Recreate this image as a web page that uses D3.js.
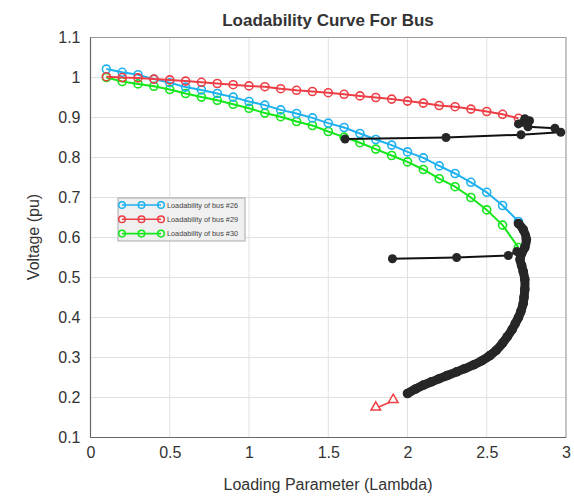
<!DOCTYPE html>
<html>
<head>
<meta charset="utf-8">
<script src="https://cdn.jsdelivr.net/npm/d3@7"></script>
<style>
  body { margin: 0; background: #fff; }
  text { font-family: "Liberation Sans", Arial, sans-serif; fill: #333; }
</style>
</head>
<body>
<div id="chart"></div>
<script>
// loading parameter steps used by the three bus curves
var lambdaSteps = [0.1,0.2,0.3,0.4,0.5,0.6,0.7,0.8,0.9,1.0,1.1,1.2,1.3,1.4,1.5,1.6,1.7,1.8,1.9,2.0,2.1,2.2,2.3,2.4,2.5,2.6,2.7];

var bus26 = [1.021,1.013,1.007,0.996,0.987,0.976,0.969,0.960,0.951,0.940,0.931,0.919,0.910,0.899,0.886,0.875,0.860,0.845,0.831,0.814,0.799,0.779,0.760,0.738,0.713,0.680,0.640];
var bus29 = [1.002,1.000,0.999,0.996,0.994,0.991,0.988,0.985,0.982,0.979,0.977,0.972,0.968,0.965,0.962,0.958,0.954,0.950,0.946,0.941,0.936,0.930,0.927,0.921,0.915,0.908,0.898];
var bus30 = [1.000,0.990,0.984,0.978,0.970,0.960,0.951,0.943,0.933,0.923,0.911,0.902,0.890,0.880,0.865,0.851,0.837,0.821,0.805,0.789,0.770,0.747,0.727,0.700,0.669,0.631,0.575];

// lower branch (thick black markers)
var noseLambda = [2.70,2.73,2.75,2.74,2.72,2.71,2.72,2.73,2.74,2.74,2.735,2.73,2.715,2.70,2.68,2.66,2.63,2.60,2.56,2.52,2.47,2.42,2.36,2.31,2.25,2.20,2.15,2.10,2.05,2.00];
var noseV      = [0.635,0.62,0.595,0.575,0.56,0.545,0.53,0.515,0.495,0.47,0.45,0.435,0.415,0.40,0.385,0.37,0.352,0.336,0.318,0.305,0.292,0.282,0.272,0.264,0.255,0.247,0.239,0.231,0.221,0.210];

// black iteration traces
var trace1Lambda = [2.70,2.74,2.77,2.73,2.76,2.93,2.967,2.716,2.243,1.606];
var trace1V      = [0.884,0.897,0.892,0.888,0.877,0.873,0.863,0.857,0.850,0.846];
var trace2Lambda = [2.69,2.636,2.31,1.905];
var trace2V      = [0.565,0.555,0.55,0.547];

// red triangles
var triLambda = [1.80,1.91];
var triV = [0.173,0.192];

var xTicks = [0,0.5,1,1.5,2,2.5,3];
var yTicks = [0.1,0.2,0.3,0.4,0.5,0.6,0.7,0.8,0.9,1,1.1];

var legendLabels = ["Loadability of bus #26","Loadability of bus #29","Loadability of bus #30"];
var colors = ["#1eb1ef","#ee3e45","#14e61a"];

var w = 574, h = 497;
var svg = d3.select("#chart").append("svg")
    .attr("width", w)
    .attr("height", h);

var x = d3.scaleLinear().domain([0,3]).range([90.5,566]);
var y = d3.scaleLinear().domain([0.1,1.1]).range([437.5,37.5]);

//grid lines
svg.selectAll(".gx").data(xTicks).enter().append("line")
    .attr("x1", function(d){return x(d);}).attr("x2", function(d){return x(d);})
    .attr("y1", y(1.1)).attr("y2", y(0.1))
    .style("stroke", "#e1e1e1").style("stroke-width", 1);
svg.selectAll(".gy").data(yTicks).enter().append("line")
    .attr("y1", function(d){return y(d);}).attr("y2", function(d){return y(d);})
    .attr("x1", x(0)).attr("x2", x(3))
    .style("stroke", "#e1e1e1").style("stroke-width", 1);

// axes
var xAxis = d3.axisBottom(x).tickValues(xTicks).tickSize(0).tickPadding(9).tickFormat(d3.format("~g"));
var yAxis = d3.axisLeft(y).tickValues(yTicks).tickSize(0).tickPadding(10).tickFormat(d3.format("~g"));

var gx = svg.append("g").attr("transform", "translate(0," + y(0.1) + ")").call(xAxis);
var gy = svg.append("g").attr("transform", "translate(" + x(0) + ",0)").call(yAxis);
[gx, gy].forEach(function(g){
    g.select(".domain").remove();
    g.selectAll("text").style("font-size", "16px").style("fill", "#333")
        .style("font-family", "'Liberation Sans', Arial, sans-serif");
});

// box
svg.append("rect")
    .attr("x", x(0)).attr("y", y(1.1))
    .attr("width", x(3) - x(0)).attr("height", y(0.1) - y(1.1))
    .style("fill", "none").style("stroke", "#9a9a9a").style("stroke-width", 1);
svg.append("line")
    .attr("x1", x(0)).attr("x2", x(0)).attr("y1", y(1.1)).attr("y2", y(0.1))
    .style("stroke", "#666").style("stroke-width", 1.2);
svg.append("line")
    .attr("x1", x(0)).attr("x2", x(3)).attr("y1", y(0.1)).attr("y2", y(0.1))
    .style("stroke", "#666").style("stroke-width", 1.2);

// title and labels
svg.append("text")
    .attr("x", 328).attr("y", 26)
    .style("text-anchor", "middle")
    .style("font-size", "17px").style("font-weight", "bold")
    .text("Loadability Curve For Bus");
svg.append("text")
    .attr("x", 328).attr("y", 490)
    .style("text-anchor", "middle")
    .style("font-size", "16px")
    .text("Loading Parameter (Lambda)");
svg.append("text")
    .attr("transform", "translate(39," + 237 + ") rotate(-90)")
    .style("text-anchor", "middle")
    .style("font-size", "16px")
    .text("Voltage (pu)");

var line = d3.line()
    .x(function(d){return x(d[0]);})
    .y(function(d){return y(d[1]);});

var plot = svg.append("g");

//draws bus curves
var series = [bus26, bus29, bus30];
[2,0,1].forEach(function(k){
    var pts = lambdaSteps.map(function(l,i){return [l, series[k][i]];});
    plot.append("path").datum(pts)
        .attr("d", line)
        .style("fill", "none").style("stroke", colors[k]).style("stroke-width", 2);
    plot.selectAll(".m" + k).data(pts).enter().append("circle")
        .attr("cx", function(d){return x(d[0]);})
        .attr("cy", function(d){return y(d[1]);})
        .attr("r", 4)
        .style("fill", "none").style("stroke", colors[k]).style("stroke-width", 1.6);
});

// thick black branch
var nosePts = noseLambda.map(function(l,i){return [l, noseV[i]];});
plot.append("path").datum(nosePts)
    .attr("d", line.curve(d3.curveCatmullRom))
    .style("fill", "none").style("stroke", "#262626").style("stroke-width", 9)
    .style("stroke-linecap", "round").style("stroke-linejoin", "round");
line.curve(d3.curveLinear);
plot.selectAll(".nose").data(nosePts).enter().append("circle")
    .attr("cx", function(d){return x(d[0]);})
    .attr("cy", function(d){return y(d[1]);})
    .attr("r", 4.8)
    .style("fill", "#262626");

// black traces
[[trace1Lambda, trace1V],[trace2Lambda, trace2V]].forEach(function(t, k){
    var pts = t[0].map(function(l,i){return [l, t[1][i]];});
    plot.append("path").datum(pts)
        .attr("d", line)
        .style("fill", "none").style("stroke", "#111").style("stroke-width", 2);
    plot.selectAll(".t" + k).data(pts).enter().append("circle")
        .attr("cx", function(d){return x(d[0]);})
        .attr("cy", function(d){return y(d[1]);})
        .attr("r", 4.5)
        .style("fill", "#262626");
});

// red triangles
var triPts = triLambda.map(function(l,i){return [l, triV[i]];});
plot.append("path").datum(triPts)
    .attr("d", line)
    .style("fill", "none").style("stroke", colors[1]).style("stroke-width", 1.5);
plot.selectAll(".tri").data(triPts).enter().append("path")
    .attr("d", d3.symbol().type(d3.symbolTriangle).size(40))
    .attr("transform", function(d){return "translate(" + x(d[0]) + "," + (y(d[1]) - 1) + ")";})
    .style("fill", "#fff").style("stroke", colors[1]).style("stroke-width", 1.5);

// legend
var lg = svg.append("g").attr("transform", "translate(118,198)");
lg.append("rect")
    .attr("width", 127).attr("height", 43)
    .style("fill", "#f0f0f0").style("stroke", "#a8a8a8").style("stroke-width", 1);
var rows = lg.selectAll(".legend").data(legendLabels).enter().append("g")
    .attr("transform", function(d,i){return "translate(0," + (7 + i * 14.3) + ")";});
rows.append("line")
    .attr("x1", 4).attr("x2", 43)
    .style("stroke", function(d,i){return colors[i];}).style("stroke-width", 1.6);
[4, 23.5, 43].forEach(function(cx){
    rows.append("circle")
        .attr("cx", cx).attr("r", 3.3)
        .style("fill", "none")
        .style("stroke", function(d,i){return colors[i];}).style("stroke-width", 1.5);
});
rows.append("text")
    .attr("x", 49).attr("dy", "0.35em")
    .style("font-size", "7.3px").style("fill", "#444")
    .text(function(d){return d;});
</script>
</body>
</html>
